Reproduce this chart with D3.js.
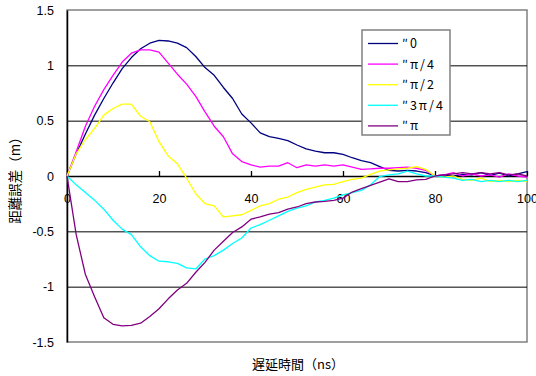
<!DOCTYPE html>
<html>
<head>
<meta charset="utf-8">
<script src="https://cdn.jsdelivr.net/npm/d3@7"></script>
<style>
  body { margin: 0; background: #fff; }
  svg { display: block; }
  .tick text { font-family: "Liberation Sans", Arial, sans-serif; font-size: 12.5px; fill: #000; }
  .grid line { stroke: #000; stroke-width: 1; }
  .grid path { display: none; }
</style>
</head>
<body>
<svg id="chart" width="536" height="376"></svg>
<script>
// delay time (ns)
const times = d3.range(0, 101, 2);

// distance error (m) per phase
const phase0 = [0, 0.20, 0.38, 0.55, 0.70, 0.84, 0.97, 1.07, 1.15, 1.20,
  1.225, 1.22, 1.20, 1.16, 1.08, 0.98, 0.91, 0.80, 0.70, 0.56,
  0.48, 0.39, 0.355, 0.34, 0.32, 0.28, 0.245, 0.225, 0.21, 0.21,
  0.195, 0.165, 0.14, 0.12, 0.085, 0.05, 0.045, 0.05, 0.045, 0.03,
  0.0, 0.01, 0.0, 0.015, 0.01, 0.03, 0.005, 0.025, 0.0, 0.02, 0.04];
const phasePi4 = [0, 0.22, 0.45, 0.63, 0.78, 0.91, 1.03, 1.11, 1.14, 1.14,
  1.12, 1.02, 0.92, 0.83, 0.72, 0.58, 0.45, 0.355, 0.20, 0.13,
  0.10, 0.08, 0.09, 0.09, 0.12, 0.075, 0.10, 0.09, 0.10, 0.09,
  0.10, 0.08, 0.06, 0.065, 0.07, 0.07, 0.075, 0.08, 0.07, 0.05,
  0.0, 0.01, 0.03, 0.0, 0.02, 0.0, 0.01, -0.01, 0.02, 0.0, -0.01];
const phasePi2 = [0, 0.20, 0.33, 0.43, 0.55, 0.61, 0.65, 0.65, 0.54, 0.49,
  0.31, 0.18, 0.11, -0.02, -0.16, -0.25, -0.27, -0.37, -0.36, -0.35,
  -0.31, -0.27, -0.25, -0.21, -0.19, -0.15, -0.12, -0.10, -0.08, -0.075,
  -0.05, -0.03, -0.02, 0.015, 0.045, 0.055, 0.065, 0.07, 0.085, 0.06,
  0.0, -0.01, 0.0, -0.03, -0.04, -0.02, -0.05, -0.04, -0.05, -0.04, -0.05];
const phase3Pi4 = [0, -0.08, -0.15, -0.22, -0.30, -0.40, -0.48, -0.53, -0.64, -0.72,
  -0.77, -0.775, -0.79, -0.83, -0.84, -0.75, -0.72, -0.67, -0.61, -0.56,
  -0.47, -0.44, -0.40, -0.36, -0.32, -0.29, -0.27, -0.235, -0.22, -0.20,
  -0.17, -0.15, -0.13, -0.08, -0.005, 0.01, 0.02, 0.045, 0.02, 0.0,
  0.0, -0.01, -0.02, -0.04, -0.03, -0.05, -0.04, -0.05, -0.04, -0.05, -0.04];
const phasePi = [0, -0.53, -0.89, -1.09, -1.28, -1.34, -1.355, -1.35, -1.33, -1.27,
  -1.20, -1.11, -1.03, -0.97, -0.87, -0.78, -0.67, -0.59, -0.51, -0.46,
  -0.39, -0.37, -0.345, -0.33, -0.30, -0.28, -0.25, -0.235, -0.23, -0.22,
  -0.20, -0.145, -0.115, -0.085, -0.055, -0.025, -0.05, -0.05, -0.035, -0.03,
  0.0, 0.01, 0.02, 0.03, 0.02, 0.03, 0.02, 0.03, 0.01, 0.02, 0.0];

const seriesNames = ["″0", "″π/4", "″π/2", "″3π/4", "″π"];
const seriesValues = [phase0, phasePi4, phasePi2, phase3Pi4, phasePi];
const seriesColors = ["#000080", "#ff00ff", "#ffff00", "#00ffff", "#800080"];

const xTicks = [0, 20, 40, 60, 80, 100];
const yTicks = [-1.5, -1, -0.5, 0, 0.5, 1, 1.5];
const gridValues = [-1, -0.5, 0.5, 1];

const svg = d3.select("#chart");
const margin = { top: 10, right: 9, bottom: 34, left: 67 };
const width  = +svg.attr("width")  - margin.left - margin.right;
const height = +svg.attr("height") - margin.top  - margin.bottom;

const x = d3.scaleLinear().domain([0, 100]).range([0, width]);
const y = d3.scaleLinear().domain([-1.5, 1.5]).range([height, 0]);

const g = svg.append("g")
  .attr("transform", `translate(${margin.left},${margin.top})`);

// plot area frame
g.append("rect")
  .attr("width", width)
  .attr("height", height)
  .attr("fill", "#fff")
  .attr("stroke", "#808080")
  .attr("stroke-width", 1.5);

// gridlines
g.append("g")
  .attr("class", "grid")
  .call(d3.axisLeft(y)
    .tickValues(gridValues)
    .tickSize(-width)
    .tickFormat("")
  );

// y axis
const yAxis = g.append("g")
  .call(d3.axisLeft(y)
    .tickValues(yTicks)
    .tickSize(0)
    .tickPadding(13)
    .tickFormat(d => String(d))
  );
yAxis.select(".domain").attr("stroke", "#000").attr("stroke-width", 1.5);

// x axis on the zero line, ticks pointing up
const xAxis = g.append("g")
  .attr("transform", `translate(0,${y(0)})`)
  .call(d3.axisBottom(x)
    .tickValues(xTicks)
    .tickSizeInner(-5)
    .tickSizeOuter(0)
    .tickPadding(18)
  );
xAxis.select(".domain").attr("stroke", "#000").attr("stroke-width", 1.3);
xAxis.selectAll(".tick line").attr("stroke", "#000").attr("stroke-width", 1.3);

// series lines
const line = d3.line()
  .x((d, i) => x(times[i]))
  .y(d => y(d));

g.selectAll(".series")
  .data(seriesValues)
  .join("path")
    .attr("class", "series")
    .attr("fill", "none")
    .attr("stroke", (d, i) => seriesColors[i])
    .attr("stroke-width", 1.3)
    .attr("stroke-linejoin", "round")
    .attr("d", line);

// axis titles
svg.append("text")
  .attr("x", 298)
  .attr("y", 369)
  .attr("text-anchor", "middle")
  .style("font-family", "'Noto Sans CJK JP', sans-serif")
  .style("font-size", "13px")
  .text("遅延時間（ns）");

svg.append("text")
  .attr("transform", "translate(20,177) rotate(-90)")
  .attr("text-anchor", "middle")
  .style("font-family", "'Noto Sans CJK JP', sans-serif")
  .style("font-size", "13.5px")
  .text("距離誤差（m）");

// legend
const legend = svg.append("g").attr("transform", "translate(362,30)");
legend.append("rect")
  .attr("width", 88)
  .attr("height", 105)
  .attr("fill", "#fff")
  .attr("stroke", "#808080")
  .attr("stroke-width", 1.5);

const item = legend.selectAll(".item")
  .data(seriesNames)
  .join("g")
    .attr("class", "item")
    .attr("transform", (d, i) => `translate(0,${13.5 + i * 20.6})`);

item.append("line")
  .attr("x1", 6).attr("x2", 36)
  .attr("stroke", (d, i) => seriesColors[i])
  .attr("stroke-width", 1.3);

item.append("text")
  .attr("x", 40)
  .attr("y", 4.5)
  .style("font-family", "'Noto Sans CJK JP', sans-serif")
  .style("font-size", "12.5px")
  .style("letter-spacing", "2px")
  .text(d => d);
</script>
</body>
</html>
